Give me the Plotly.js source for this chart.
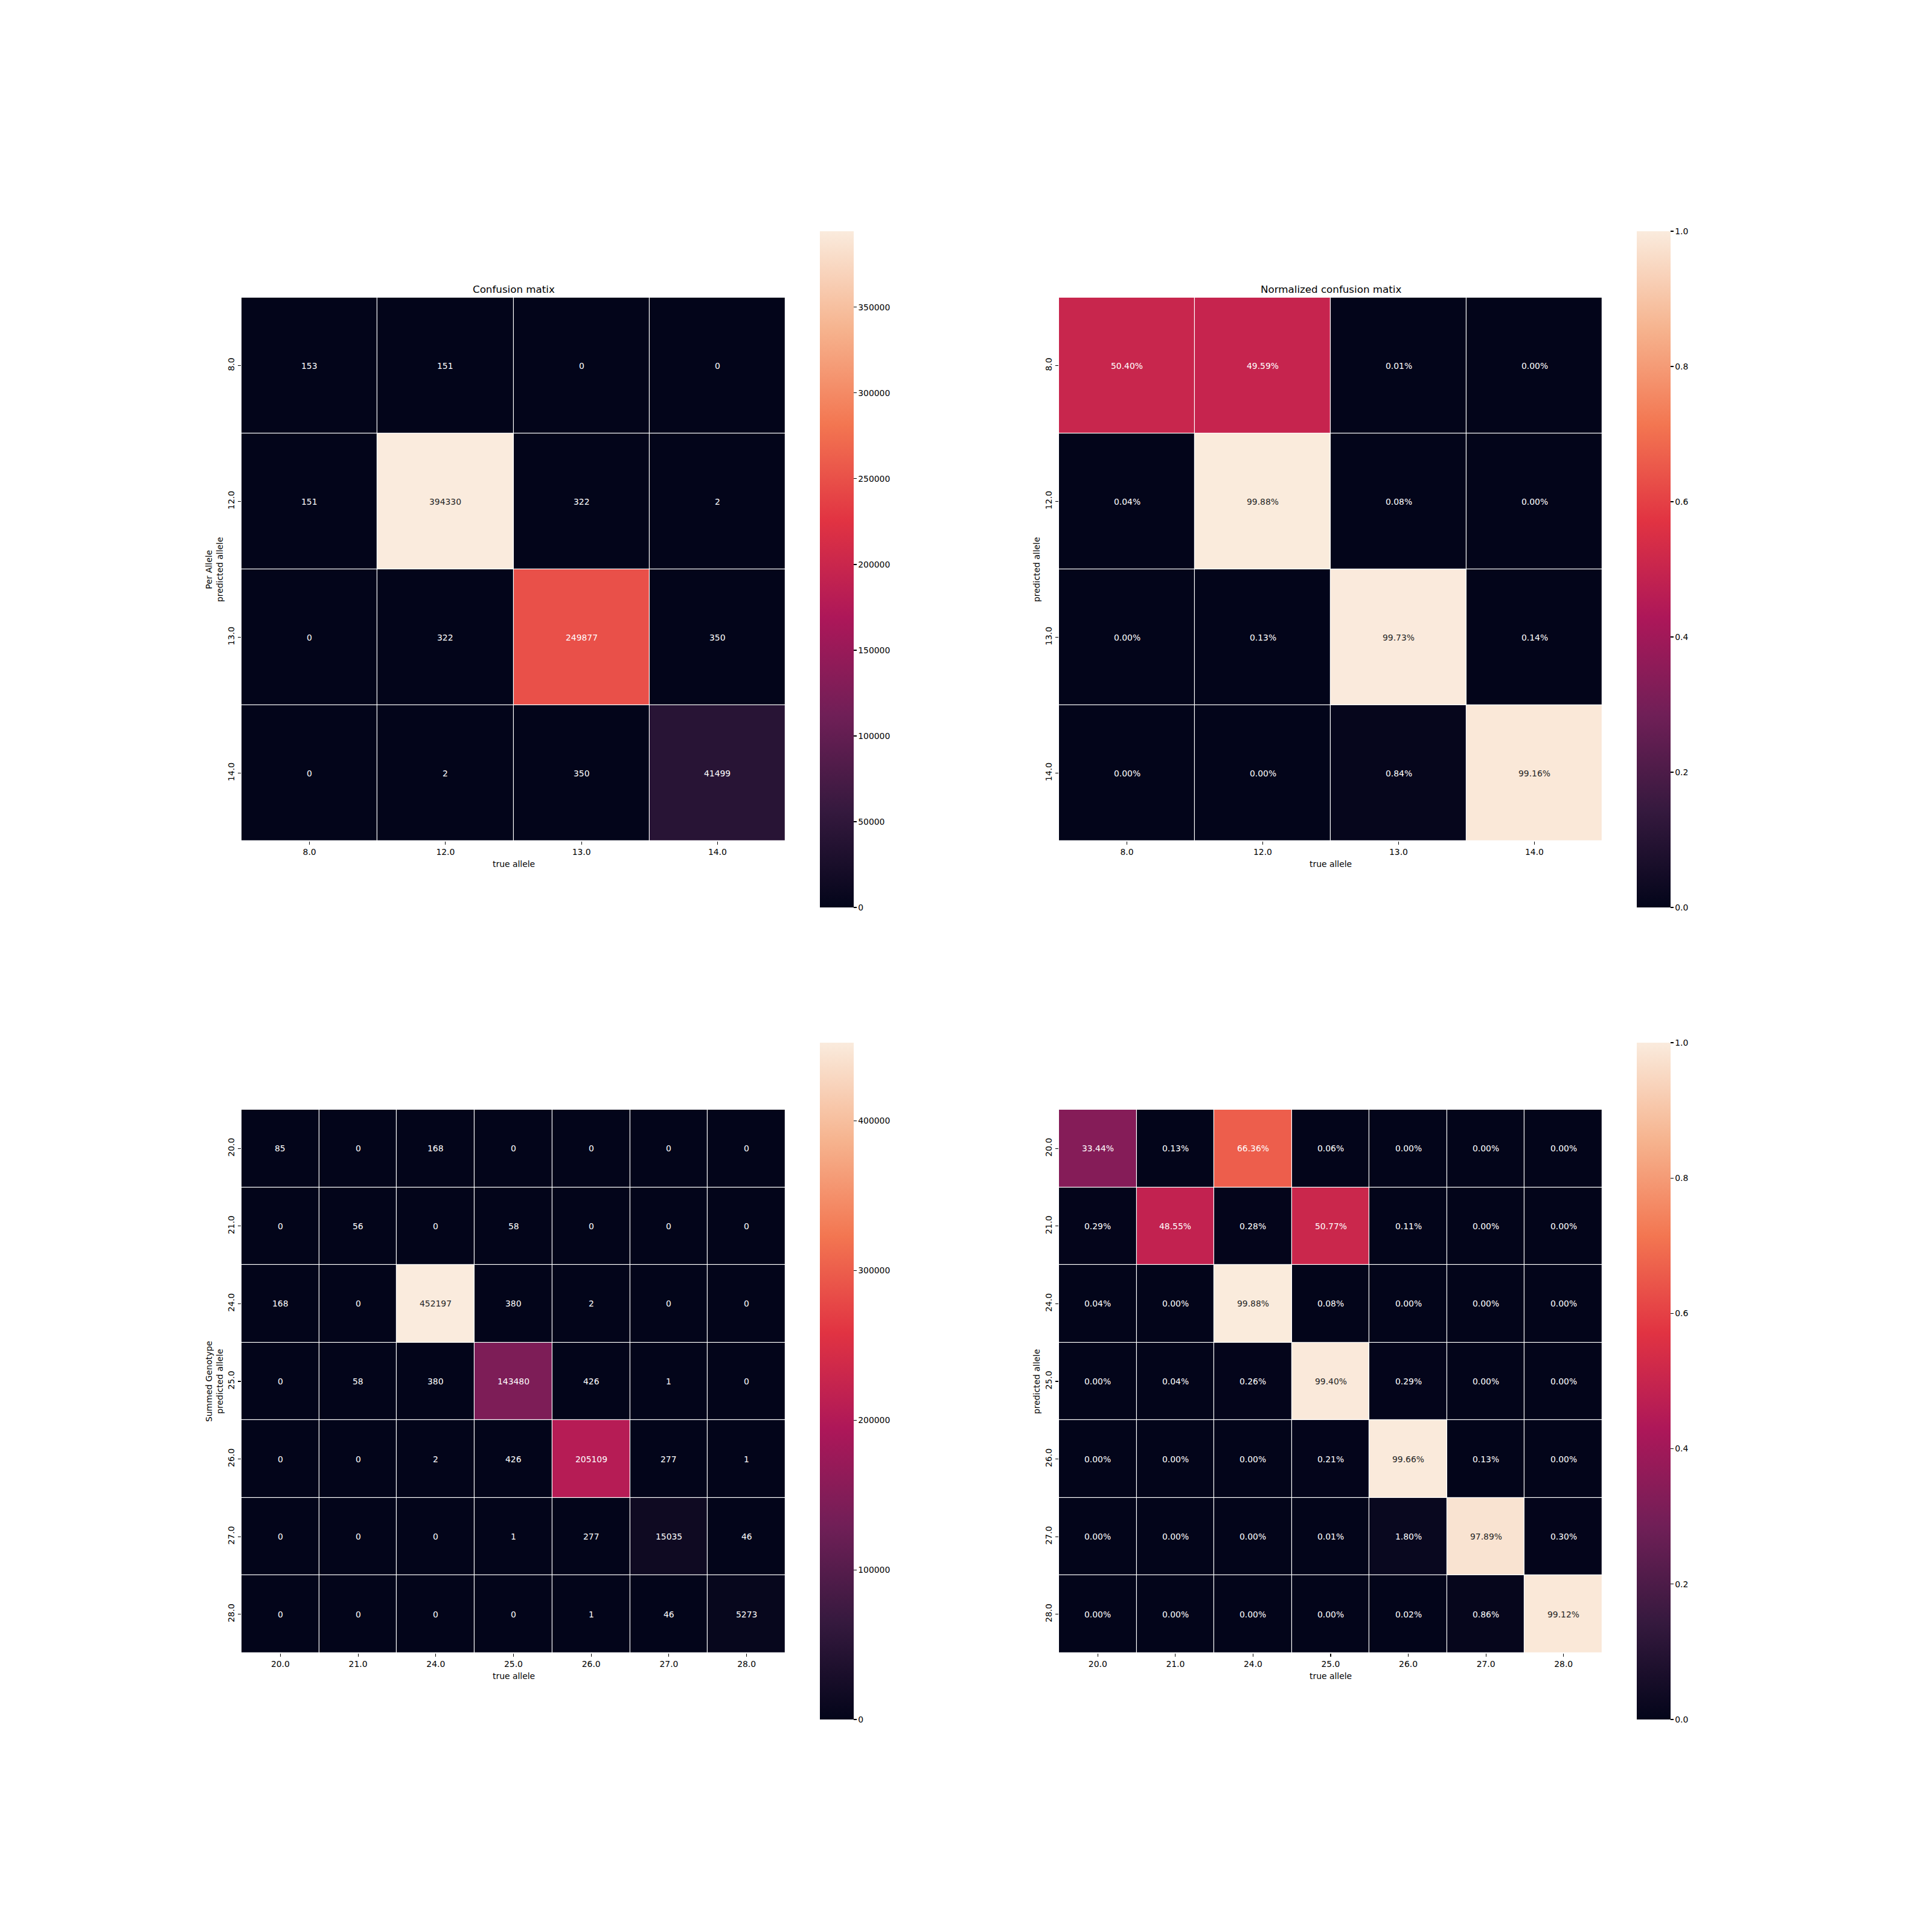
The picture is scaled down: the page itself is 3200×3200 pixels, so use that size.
<!DOCTYPE html>
<html>
<head>
<meta charset="utf-8">
<script src="https://cdn.plot.ly/plotly-3.0.1.min.js"></script>
<style>html,body{margin:0;padding:0;background:#fff;}</style>
</head>
<body>
<div id="chart" style="width:3200px;height:3200px;"></div>
<script>
// ---------------- data ----------------
const allelesTop = ['8.0', '12.0', '13.0', '14.0'];
const countsTop = [
  [153, 151, 0, 0],
  [151, 394330, 322, 2],
  [0, 322, 249877, 350],
  [0, 2, 350, 41499]
];
const normTopPct = [
  [50.40, 49.59, 0.01, 0.00],
  [0.04, 99.88, 0.08, 0.00],
  [0.00, 0.13, 99.73, 0.14],
  [0.00, 0.00, 0.84, 99.16]
];
const allelesBottom = ['20.0', '21.0', '24.0', '25.0', '26.0', '27.0', '28.0'];
const countsBottom = [
  [85, 0, 168, 0, 0, 0, 0],
  [0, 56, 0, 58, 0, 0, 0],
  [168, 0, 452197, 380, 2, 0, 0],
  [0, 58, 380, 143480, 426, 1, 0],
  [0, 0, 2, 426, 205109, 277, 1],
  [0, 0, 0, 1, 277, 15035, 46],
  [0, 0, 0, 0, 1, 46, 5273]
];
const normBottomPct = [
  [33.44, 0.13, 66.36, 0.06, 0.00, 0.00, 0.00],
  [0.29, 48.55, 0.28, 50.77, 0.11, 0.00, 0.00],
  [0.04, 0.00, 99.88, 0.08, 0.00, 0.00, 0.00],
  [0.00, 0.04, 0.26, 99.40, 0.29, 0.00, 0.00],
  [0.00, 0.00, 0.00, 0.21, 99.66, 0.13, 0.00],
  [0.00, 0.00, 0.00, 0.01, 1.80, 97.89, 0.30],
  [0.00, 0.00, 0.00, 0.00, 0.02, 0.86, 99.12]
];
const titles = ['Confusion matix', 'Normalized confusion matix'];
const yTitles = ['Per Allele<br>predicted allele', 'predicted allele', 'Summed Genotype<br>predicted allele', 'predicted allele'];
const xTitle = 'true allele';

// ---------------- styling ----------------
const rocket = [
  [0.0, '#03051a'],
  [1/7, '#35193e'],
  [2/7, '#701f57'],
  [3/7, '#ad1759'],
  [4/7, '#e13342'],
  [5/7, '#f37651'],
  [6/7, '#f6b48f'],
  [1.0, '#faebdd']
];
const FONT = 'DejaVu Sans, Liberation Sans, sans-serif';
const FS = 13.9;
const W = 3200, H = 3200;

function hexToRgb(h) {
  return [parseInt(h.slice(1,3),16), parseInt(h.slice(3,5),16), parseInt(h.slice(5,7),16)];
}
function colorAt(t) {
  t = Math.max(0, Math.min(1, t));
  for (let i = 0; i < rocket.length - 1; i++) {
    const [t0, c0] = rocket[i], [t1, c1] = rocket[i+1];
    if (t >= t0 && t <= t1) {
      const f = (t - t0) / (t1 - t0);
      const a = hexToRgb(c0), b = hexToRgb(c1);
      return a.map((v, k) => v + f * (b[k] - v));
    }
  }
  return hexToRgb(rocket[rocket.length-1][1]);
}
function luminance(rgb) {
  const c = rgb.map(v => {
    v = v / 255;
    return v <= 0.03928 ? v / 12.92 : Math.pow((v + 0.055) / 1.055, 2.4);
  });
  return 0.2126 * c[0] + 0.7152 * c[1] + 0.0722 * c[2];
}

// panel geometry (pixels)
const panels = [
  {x0: 400, x1: 1301, y0: 493, y1: 1393, cbx: 1358, cby0: 383, cby1: 1503},
  {x0: 1754, x1: 2654, y0: 493, y1: 1393, cbx: 2711, cby0: 383, cby1: 1503},
  {x0: 400, x1: 1301, y0: 1838, y1: 2738, cbx: 1358, cby0: 1727, cby1: 2848},
  {x0: 1754, x1: 2654, y0: 1838, y1: 2738, cbx: 2711, cby0: 1727, cby1: 2848}
];

const matrices = [
  {cats: allelesTop, z: countsTop, kind: 'count', dtick: 50000},
  {cats: allelesTop, z: normTopPct.map(r => r.map(v => v / 100)), pct: normTopPct, kind: 'norm', dtick: 0.2},
  {cats: allelesBottom, z: countsBottom, kind: 'count', dtick: 100000},
  {cats: allelesBottom, z: normBottomPct.map(r => r.map(v => v / 100)), pct: normBottomPct, kind: 'norm', dtick: 0.2}
];

const traces = [];
const annotations = [];
const layout = {
  width: W, height: H,
  margin: {l: 0, r: 0, t: 0, b: 0},
  paper_bgcolor: '#ffffff',
  plot_bgcolor: '#ffffff',
  font: {family: FONT, size: FS, color: '#000000'},
  showlegend: false
};

matrices.forEach((m, i) => {
  const p = panels[i];
  const n = i + 1;
  const xa = n === 1 ? 'x' : 'x' + n;
  const ya = n === 1 ? 'y' : 'y' + n;
  const k = m.cats.length;
  const idx = m.cats.map((_, j) => j);
  const flat = m.z.flat();
  const zmin = m.kind === 'norm' ? 0 : Math.min(...flat);
  const zmax = m.kind === 'norm' ? 1 : Math.max(...flat);
  traces.push({
    type: 'heatmap',
    x: idx, y: idx, z: m.z,
    xaxis: xa, yaxis: ya,
    colorscale: rocket, zmin: zmin, zmax: zmax,
    xgap: 1.2, ygap: 1.2,
    hoverinfo: 'skip',
    colorbar: {
      x: p.cbx / W, xanchor: 'left',
      y: 1 - (p.cby0 + p.cby1) / 2 / H, yanchor: 'middle',
      len: p.cby1 - p.cby0, lenmode: 'pixels',
      thickness: 56, thicknessmode: 'pixels',
      xpad: 0, ypad: 0,
      outlinewidth: 0,
      ticks: 'outside', ticklen: 5, tickwidth: 1.1, tickcolor: '#000',
      tick0: 0, dtick: m.dtick,
      tickformat: m.kind === 'norm' ? '.1f' : 'd',
      tickfont: {family: FONT, size: FS, color: '#000'}
    }
  });
  const axBase = {
    type: 'linear',
    showgrid: false, zeroline: false, showline: false,
    ticks: 'outside', ticklen: 5, tickwidth: 1.1, tickcolor: '#000',
    tickfont: {family: FONT, size: FS, color: '#000'},
    tickmode: 'array', tickvals: idx, ticktext: m.cats,
    fixedrange: true
  };
  layout[n === 1 ? 'xaxis' : 'xaxis' + n] = Object.assign({}, axBase, {
    domain: [p.x0 / W, p.x1 / W], anchor: ya,
    range: [-0.5, k - 0.5], tickangle: 0
  });
  layout[n === 1 ? 'yaxis' : 'yaxis' + n] = Object.assign({}, axBase, {
    domain: [1 - p.y1 / H, 1 - p.y0 / H], anchor: xa,
    range: [k - 0.5, -0.5], tickangle: -90
  });

  // cell annotations
  m.z.forEach((row, r) => {
    row.forEach((v, c) => {
      const t = (v - zmin) / (zmax - zmin);
      const lum = luminance(colorAt(t));
      const txt = m.kind === 'norm' ? m.pct[r][c].toFixed(2) + '%' : String(v);
      annotations.push({
        xref: xa, yref: ya, x: idx[c], y: idx[r],
        text: txt, showarrow: false,
        xanchor: 'center', yanchor: 'middle',
        font: {family: FONT, size: FS, color: lum > 0.408 ? '#262626' : '#ffffff'}
      });
    });
  });

  // x axis title
  annotations.push({
    xref: 'paper', yref: 'paper',
    x: (p.x0 + p.x1) / 2 / W, y: 1 - (p.y1 + 38) / H,
    text: xTitle, showarrow: false, xanchor: 'center', yanchor: 'middle',
    font: {family: FONT, size: FS, color: '#000'}
  });
  // y axis title
  const twoLine = yTitles[i].indexOf('<br>') >= 0;
  annotations.push({
    xref: 'paper', yref: 'paper',
    x: (p.x0 - (twoLine ? 45 : 37)) / W, y: 1 - (p.y0 + p.y1) / 2 / H,
    text: yTitles[i], showarrow: false, textangle: -90,
    xanchor: 'center', yanchor: 'middle',
    font: {family: FONT, size: FS, color: '#000'}
  });
  // plot title
  if (i < 2) {
    annotations.push({
      xref: 'paper', yref: 'paper',
      x: (p.x0 + p.x1) / 2 / W, y: 1 - (p.y0 - 14) / H,
      text: titles[i], showarrow: false, xanchor: 'center', yanchor: 'middle',
      font: {family: FONT, size: 16.7, color: '#000'}
    });
  }
});

layout.annotations = annotations;
Plotly.newPlot('chart', traces, layout, {staticPlot: true, displayModeBar: false});
</script>
</body>
</html>
